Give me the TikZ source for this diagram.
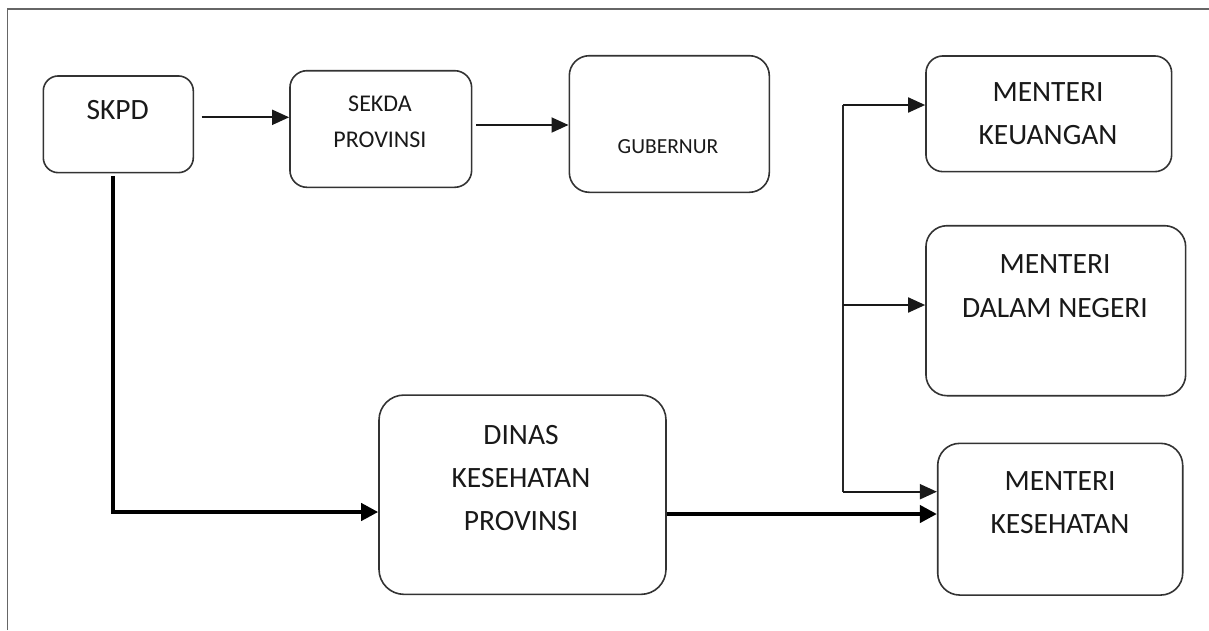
\documentclass[tikz,border=0pt]{standalone}
\usepackage{fontspec}
\setmainfont{Carlito}
\usetikzlibrary{arrows.meta}
\begin{document}
\begin{tikzpicture}[x=1pt,y=-1pt,
  box/.style={draw=black!80,line width=1.6pt,rectangle,inner sep=0pt},
  txt/.style={inner sep=0pt,align=center,text=black!90},
  big/.style={font=\fontsize{29.5}{43}\selectfont},
  thinarr/.style={draw=black!90,line width=1.9pt,-{Triangle[length=17pt,width=15pt]}},
  thickarr/.style={draw=black,line width=4pt,-{Triangle[length=17pt,width=17pt]}},
  busline/.style={draw=black!85,line width=1.9pt},
  frameline/.style={draw=black!60,line width=1.6pt}]
\useasboundingbox (0,0) rectangle (1209,630);
\draw[frameline] (7.5,630) -- (7.5,9) -- (1209,9);
% boxes
\node[box,minimum width=150pt,minimum height=96.7pt,rounded corners=15pt] (skpd) at (118.3,124.3) {};
\node[box,minimum width=181.7pt,minimum height=116.6pt,rounded corners=17pt] (sekda) at (380.8,129) {};
\node[box,minimum width=200pt,minimum height=136.6pt,rounded corners=20pt] (gub) at (669.3,124) {};
\node[box,minimum width=245.7pt,minimum height=115.7pt,rounded corners=17pt] (keu) at (1048.8,113.8) {};
\node[box,minimum width=259.7pt,minimum height=170pt,rounded corners=21pt] (dagri) at (1055.8,310.7) {};
\node[box,minimum width=245pt,minimum height=151.7pt,rounded corners=22pt] (kes) at (1060.2,519.2) {};
\node[box,minimum width=287pt,minimum height=199.3pt,rounded corners=25pt] (dinas) at (522.5,494.7) {};
% texts
\node[txt,big] (skpdT) at (117.7,110.5) {SKPD};
\node[txt,font=\fontsize{24}{35.5}\selectfont] (sekdaT) at (380,122) {SEKDA\\PROVINSI};
\node[txt,font=\fontsize{21.5}{26}\selectfont] (gubT) at (668,146.3) {GUBERNUR};
\node[txt,big] (keuT) at (1048,113.7) {MENTERI\\KEUANGAN};
\node[txt,font=\fontsize{29.5}{44}\selectfont] (dagriT) at (1055,285.8) {MENTERI\\DALAM NEGERI};
\node[txt,big] (kesT) at (1060,502.5) {MENTERI\\KESEHATAN};
\node[txt,big] (dinasT) at (521,477.8) {DINAS\\KESEHATAN\\PROVINSI};
% connectors
\draw[thinarr] ([xshift=7.4pt,yshift=7pt]skpd.east) -- ([yshift=11.7pt]sekda.west);
\draw[thinarr] ([xshift=4pt,yshift=4pt]sekda.east) -- ([yshift=-1pt]gub.west);
\draw[thickarr] ([xshift=-5pt,yshift=-2.3pt]skpd.south) |- ([yshift=-17.3pt]dinas.west);
\draw[thickarr] ([yshift=-19.3pt]dinas.east) -- ([yshift=5.2pt]kes.west);
\coordinate (jt) at (843,105);
\coordinate (jm) at (843,305);
\coordinate (jb) at (843,491.7);
\draw[busline] (jt) -- (jb);
\draw[thinarr] (jt) -- (keu.west |- jt);
\draw[thinarr] (jm) -- (dagri.west |- jm);
\draw[thinarr] (jb) -- (kes.west |- jb);
\end{tikzpicture}
\end{document}
